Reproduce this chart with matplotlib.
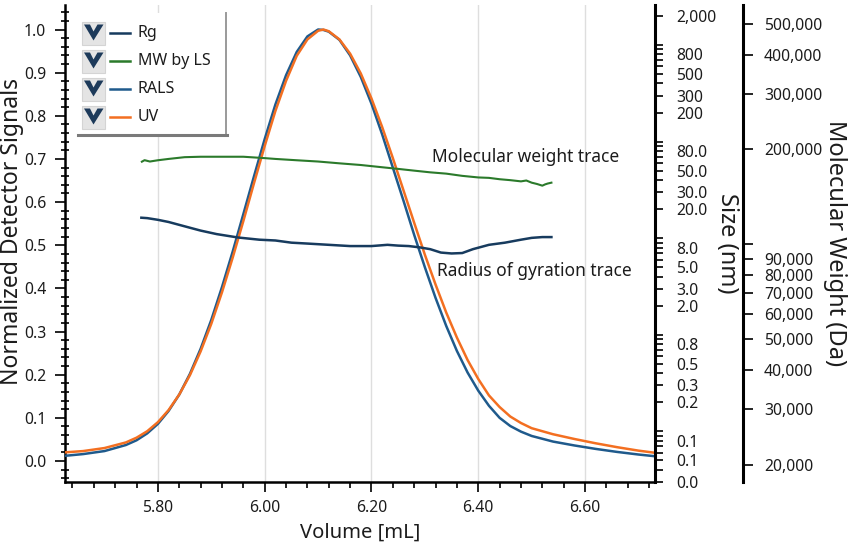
import numpy as np
import matplotlib
matplotlib.use('Agg')
import matplotlib.pyplot as plt
from matplotlib.ticker import FixedLocator, FuncFormatter, MultipleLocator, LogLocator, NullFormatter
from matplotlib.patches import Rectangle, Polygon

plt.rcParams['font.family'] = ['Noto Sans', 'DejaVu Sans']

# detector traces (normalized)
volume = [5.626, 5.66, 5.70, 5.74, 5.76, 5.78, 5.80, 5.82, 5.84, 5.86, 5.88, 5.90,
          5.92, 5.94, 5.96, 5.98, 6.00, 6.02, 6.04, 6.06, 6.08, 6.10, 6.11, 6.12,
          6.14, 6.16, 6.18, 6.20, 6.22, 6.24, 6.26, 6.28, 6.30, 6.32, 6.34, 6.36,
          6.38, 6.40, 6.42, 6.44, 6.46, 6.48, 6.50, 6.54, 6.58, 6.62, 6.66, 6.70, 6.731]
uv = [0.020, 0.023, 0.030, 0.043, 0.054, 0.069, 0.090, 0.118, 0.154, 0.199, 0.254, 0.318,
      0.391, 0.471, 0.556, 0.644, 0.730, 0.811, 0.881, 0.939, 0.977, 0.997, 1.000, 0.996,
      0.977, 0.944, 0.898, 0.840, 0.774, 0.702, 0.627, 0.552, 0.478, 0.409, 0.344, 0.286,
      0.234, 0.190, 0.152, 0.125, 0.103, 0.088, 0.076, 0.062, 0.051, 0.041, 0.032, 0.024, 0.019]
rals = [0.012, 0.016, 0.023, 0.037, 0.048, 0.064, 0.086, 0.116, 0.154, 0.202, 0.260, 0.327,
        0.403, 0.485, 0.572, 0.660, 0.746, 0.826, 0.894, 0.948, 0.984, 1.000, 0.999, 0.995,
        0.976, 0.940, 0.890, 0.828, 0.757, 0.680, 0.603, 0.524, 0.449, 0.378, 0.313, 0.255,
        0.205, 0.163, 0.128, 0.100, 0.081, 0.068, 0.058, 0.045, 0.036, 0.028, 0.021, 0.015, 0.011]

# molecular weight by light scattering (Da)
vol_mw = [5.770, 5.775, 5.785, 5.80, 5.82, 5.85, 5.88, 5.92, 5.96, 6.00, 6.02, 6.06,
          6.10, 6.14, 6.18, 6.22, 6.25, 6.28, 6.31, 6.34, 6.37, 6.40, 6.42, 6.44,
          6.46, 6.48, 6.49, 6.50, 6.51, 6.52, 6.525, 6.53, 6.537]
mw_da = [183000, 185000, 183200, 184900, 186700, 189100, 189700, 189700, 189700, 187800, 186700, 184900,
         183200, 180800, 178600, 175700, 173600, 171400, 169300, 167700, 165000, 163100, 162600, 161000,
         159900, 158500, 159500, 157000, 155500, 153600, 155000, 156000, 157000]

# radius of gyration (nm)
vol_rg = [5.769, 5.78, 5.80, 5.82, 5.85, 5.88, 5.91, 5.95, 5.99, 6.02, 6.05, 6.08,
          6.12, 6.16, 6.20, 6.23, 6.25, 6.27, 6.29, 6.31, 6.33, 6.35, 6.37, 6.39,
          6.42, 6.45, 6.48, 6.50, 6.52, 6.537]
rg_nm = [16.30, 16.14, 15.50, 14.72, 13.28, 11.99, 11.03, 10.17, 9.65, 9.47, 8.99, 8.80,
         8.54, 8.29, 8.29, 8.54, 8.38, 8.29, 8.04, 7.70, 7.10, 6.95, 7.02, 7.70,
         8.54, 8.99, 9.65, 10.08, 10.27, 10.27]

size_labels = [0.03, 0.05, 0.08, 0.2, 0.3, 0.5, 0.8, 2, 3, 5, 8, 20, 30, 50, 80,
               200, 300, 500, 800, 2000]
mw_ticks = [20000, 30000, 40000, 50000, 60000, 70000, 80000, 90000, 100000,
            200000, 300000, 400000, 500000]

c_uv = '#f36f21'
c_rals = '#1f5a8c'
c_rg = '#173b5e'
c_mw = '#2b7a2b'
txt = '#1c1c1c'
tfs = 11.3

fig = plt.figure(figsize=(8.53, 5.42), dpi=100)
W, H = 853, 542
L, R, T, B = 65, 655, 5, 482
ax = fig.add_axes([L / W, 1 - B / H, (R - L) / W, (B - T) / H])

ax.plot(volume, rals, color=c_rals, lw=1.8, zorder=3)
ax.plot(volume, uv, color=c_uv, lw=1.8, zorder=4)
ax.set_xlim(5.626, 6.731)
ax.set_ylim(-0.0487, 1.0568)
ax.xaxis.set_major_locator(MultipleLocator(0.2))
ax.xaxis.set_minor_locator(MultipleLocator(0.04))
ax.yaxis.set_major_locator(MultipleLocator(0.1))
ax.yaxis.set_minor_locator(MultipleLocator(0.02))
ax.xaxis.set_major_formatter(FuncFormatter(lambda v, p: f'{v:.2f}'))
ax.yaxis.set_major_formatter(FuncFormatter(lambda v, p: f'{v:.1f}'))
ax.grid(axis='x', which='major', color='#dedede', lw=1)
ax.set_axisbelow(True)
for s in ['top', 'right']:
    ax.spines[s].set_visible(False)
for s in ['left', 'bottom']:
    ax.spines[s].set_linewidth(1.8)
ax.tick_params(axis='x', which='major', direction='out', length=7, width=1.2, pad=6, labelsize=tfs, labelcolor=txt)
ax.tick_params(axis='x', which='minor', direction='out', length=4, width=1.2)
ax.tick_params(axis='y', which='major', direction='out', length=7, width=1.2, pad=6.5, labelsize=tfs, labelcolor=txt)
ax.tick_params(axis='y', which='minor', direction='inout', length=6, width=1.2)
ax.set_xlabel('Volume [mL]', fontsize=14.5, color=txt)
ax.xaxis.set_label_coords(0.5, -0.086)
ax.set_ylabel('Normalized Detector Signals', fontsize=16.5, color=txt, va='center')
ax.yaxis.set_label_coords((12 - L) / (R - L), (B - 232) / (B - T))

# size axis (Rg)
ax_size = ax.twinx()
ax_size.plot(vol_rg, rg_nm, color=c_rg, lw=1.8)
ax_size.set_yscale('log')
ax_size.set_ylim(0.0299, 2598)
ax_size.yaxis.set_major_locator(FixedLocator(size_labels))
ax_size.yaxis.set_major_formatter(FuncFormatter(lambda v, p: f'{v:,.0f}' if v >= 100 else f'{v:.1f}'))
ax_size.yaxis.set_minor_locator(LogLocator(base=10, subs=np.arange(1, 10), numticks=30))
ax_size.yaxis.set_minor_formatter(NullFormatter())
ax_size.tick_params(axis='y', which='both', direction='out', length=6, width=1.2, pad=9, labelsize=tfs, labelcolor=txt)
for s in ['top', 'left', 'bottom']:
    ax_size.spines[s].set_visible(False)
ax_size.spines['right'].set_linewidth(2.2)
ax_size.set_ylabel('Size (nm)', fontsize=17, rotation=-90, va='center', ha='center', color=txt)
ax_size.yaxis.set_label_coords((727 - L) / (R - L), 0.5)

# molecular weight axis
ax_mw = ax.twinx()
ax_mw.plot(vol_mw, mw_da, color=c_mw, lw=1.5)
ax_mw.set_yscale('log')
ax_mw.set_ylim(17670, 574100)
ax_mw.spines['right'].set_position(('outward', 88 * 72 / 100))
ax_mw.yaxis.set_major_locator(FixedLocator(mw_ticks))
ax_mw.yaxis.set_major_formatter(FuncFormatter(lambda v, p: '' if abs(v - 100000) < 1 else f'{v:,.0f}'))
ax_mw.yaxis.set_minor_locator(FixedLocator([]))
ax_mw.tick_params(axis='y', which='major', direction='out', length=7, width=1.2, pad=8, labelsize=tfs, labelcolor=txt)
for s in ['top', 'left', 'bottom']:
    ax_mw.spines[s].set_visible(False)
ax_mw.spines['right'].set_linewidth(2.2)
ax_mw.set_ylabel('Molecular Weight (Da)', fontsize=17, rotation=-90, va='center', ha='center', color=txt)
ax_mw.yaxis.set_label_coords((835 - L) / (R - L), 0.5)

# trace annotations
ax.text(6.3135, 0.7045, 'Molecular weight trace', fontsize=12.5, color=txt, va='center', ha='left')
ax.text(6.3227, 0.440, 'Radius of gyration trace', fontsize=12.5, color=txt, va='center', ha='left')

# legend with check boxes, drawn in pixel space
lg = fig.add_axes([0, 0, 1, 1], zorder=10)
lg.set_xlim(0, W)
lg.set_ylim(H, 0)
lg.axis('off')
lg.add_patch(Rectangle((78, 13), 148, 122, facecolor='white', edgecolor='none'))
lg.plot([226, 226], [13, 135], color='#9a9a9a', lw=1.4)
lg.plot([78, 227], [135, 135], color='#7a7a7a', lw=2.2)
names = ['Rg', 'MW by LS', 'RALS', 'UV']
colors = [c_rg, c_mw, c_rals, c_uv]
for i, (n, c) in enumerate(zip(names, colors)):
    y = 33 + i * 28
    lg.add_patch(Rectangle((82, y - 11.5), 23, 23, facecolor='#e4e4e4', edgecolor='#d4d4d4', lw=0.8))
    cx = 93.5
    lg.add_patch(Polygon([(cx - 9.5, y - 8.5), (cx - 3.5, y - 8.5), (cx, y - 1.5), (cx + 4, y - 8.5),
                          (cx + 10, y - 8.5), (cx, y + 7.5)], closed=True, facecolor='#1d3a5a', edgecolor='none'))
    lg.plot([110, 130], [y, y], color=c, lw=1.8)
    lg.text(138, y, n, fontsize=11.5, color=txt, va='center', ha='left')

fig.savefig('out.png', dpi=100)
